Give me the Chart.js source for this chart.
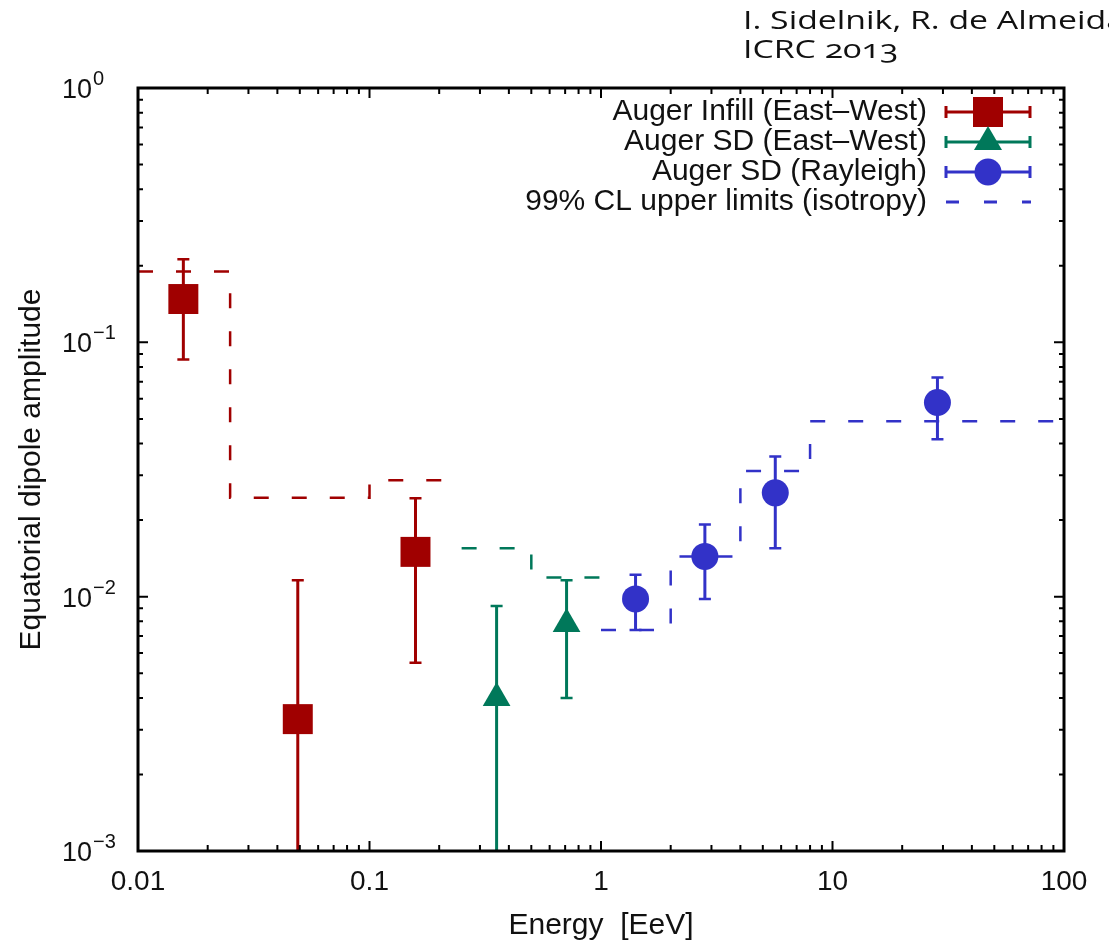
<!DOCTYPE html>
<html>
<head>
<meta charset="utf-8">
<title>Equatorial dipole amplitude vs energy</title>
<script src="https://cdn.jsdelivr.net/npm/chart.js@4/dist/chart.umd.min.js"></script>
<style>
  html, body { margin: 0; padding: 0; background: #fff; overflow: hidden; }
  #wrap { position: relative; width: 1109px; height: 944px; overflow: hidden; }
  canvas { position: absolute; left: 0; top: 0; }
  .note {
    position: absolute; font-family: "Open Sans", Lato, sans-serif; font-size: 26px; line-height: 26px;
    color: #111; white-space: nowrap; transform: scaleX(1.3); transform-origin: 0 0;
  }
</style>
</head>
<body>
<div id="wrap">
  <canvas id="chart" width="1109" height="944"></canvas>
  <div class="note" style="left:743px; top:6px;">I. Sidelnik, R. de Almeida</div>
  <div class="note" style="left:743px; top:35px; font-variant-numeric: oldstyle-nums;">ICRC 2013</div>
</div>
<script>
// Auger Infill, east-west method
const energyInfill = [0.0157, 0.049, 0.158];
const ampInfill = [0.148, 0.0033, 0.015];
const lowInfill = [0.0857, 0.0005, 0.0055];
const highInfill = [0.212, 0.0116, 0.0244];

// Auger SD, east-west method
const energySdEW = [0.354, 0.71];
const ampSdEW = [0.004, 0.0078];
const lowSdEW = [0.0005, 0.004];
const highSdEW = [0.0092, 0.0116];

// Auger SD, Rayleigh analysis
const energyRay = [1.41, 2.81, 5.66, 28.4];
const ampRay = [0.0098, 0.0144, 0.0256, 0.058];
const lowRay = [0.0074, 0.0098, 0.0155, 0.0416];
const highRay = [0.0122, 0.0192, 0.0356, 0.0728];

// 99% CL upper limits: bin edges and limit per bin
const edgesInfill = [0.01, 0.025, 0.1, 0.25];
const ulInfill = [0.19, 0.0245, 0.0287];
const edgesSdEW = [0.25, 0.5, 1];
const ulSdEW = [0.0155, 0.0119];
const edgesRay = [1, 2, 4, 8, 100];
const ulRay = [0.0074, 0.0144, 0.0312, 0.049];

const xTickLabels = ['0.01', '0.1', '1', '10', '100'];
const yTickExponents = ['0', '\u22121', '\u22122', '\u22123'];

const RED = '#a00000';
const GREEN = '#00785a';
const BLUE = '#3232c8';
const FONT = '"Liberation Sans", Arial, sans-serif';

const pts = (xs, ys) => xs.map((x, i) => ({ x, y: ys[i] }));
const steps = (edges, vals) => {
  const out = vals.map((v, i) => ({ x: edges[i], y: v }));
  out.push({ x: edges[edges.length - 1], y: vals[vals.length - 1] });
  return out;
};

const legendRows = [
  { label: 'Auger Infill (East\u2013West)', color: RED, marker: 'rect' },
  { label: 'Auger SD (East\u2013West)', color: GREEN, marker: 'triangle' },
  { label: 'Auger SD (Rayleigh)', color: BLUE, marker: 'circle' },
  { label: '99% CL upper limits (isotropy)', color: BLUE, marker: 'dash' }
];

function drawMarker(ctx, kind, x, y, color) {
  ctx.fillStyle = color;
  ctx.beginPath();
  if (kind === 'rect') {
    ctx.rect(x - 15, y - 15, 30, 30);
  } else if (kind === 'triangle') {
    ctx.moveTo(x, y - 16);
    ctx.lineTo(x + 14, y + 8);
    ctx.lineTo(x - 14, y + 8);
    ctx.closePath();
  } else {
    ctx.arc(x, y, 13.5, 0, Math.PI * 2);
  }
  ctx.fill();
}

// vertical error bars with caps, clipped to the frame
const errorBars = {
  id: 'errorBars',
  beforeDatasetsDraw(chart) {
    const { ctx, chartArea: a, scales: { x, y } } = chart;
    ctx.save();
    ctx.beginPath();
    ctx.rect(a.left, a.top, a.right - a.left, a.bottom - a.top);
    ctx.clip();
    chart.data.datasets.forEach(ds => {
      if (!ds.errLow) return;
      ctx.strokeStyle = ds.backgroundColor;
      ds.data.forEach((p, i) => {
        const px = x.getPixelForValue(p.x);
        const y0 = y.getPixelForValue(ds.errLow[i]);
        const y1 = y.getPixelForValue(ds.errHigh[i]);
        ctx.lineWidth = 3;
        ctx.beginPath();
        ctx.moveTo(px, y0);
        ctx.lineTo(px, y1);
        ctx.stroke();
        ctx.lineWidth = 2.5;
        ctx.beginPath();
        ctx.moveTo(px - 6, y0); ctx.lineTo(px + 6, y0);
        ctx.moveTo(px - 6, y1); ctx.lineTo(px + 6, y1);
        ctx.stroke();
      });
    });
    ctx.restore();
  }
};

// frame, inward ticks on all four sides, y labels and the key
const frame = {
  id: 'frame',
  afterDraw(chart) {
    const { ctx, chartArea: a, scales: { x, y } } = chart;
    ctx.save();
    ctx.strokeStyle = '#000';
    ctx.lineWidth = 2;
    ctx.beginPath();
    for (let e = -2; e < 2; e++) {
      for (let m = 1; m <= 9; m++) {
        const px = x.getPixelForValue(m * Math.pow(10, e));
        const len = m === 1 ? 10 : 6;
        ctx.moveTo(px, a.bottom); ctx.lineTo(px, a.bottom - len);
        ctx.moveTo(px, a.top); ctx.lineTo(px, a.top + len);
      }
    }
    for (let e = -3; e < 0; e++) {
      for (let m = 1; m <= 9; m++) {
        const py = y.getPixelForValue(m * Math.pow(10, e));
        const len = m === 1 ? 10 : 5;
        ctx.moveTo(a.left, py); ctx.lineTo(a.left + len, py);
        ctx.moveTo(a.right, py); ctx.lineTo(a.right - len, py);
      }
    }
    ctx.stroke();
    ctx.lineWidth = 3;
    ctx.strokeRect(a.left, a.top, a.right - a.left, a.bottom - a.top);

    // y tick labels as 10 with a raised exponent
    ctx.fillStyle = '#111';
    ctx.textBaseline = 'alphabetic';
    yTickExponents.forEach((ex, i) => {
      const py = y.getPixelForValue(Math.pow(10, -i));
      ctx.font = '27px ' + FONT;
      ctx.textAlign = 'right';
      ctx.fillText('10', 92, py + 10);
      ctx.font = '20px ' + FONT;
      ctx.textAlign = 'left';
      ctx.fillText(ex, 93, py - 3);
    });

    // key
    legendRows.forEach((row, i) => {
      const ly = 112 + i * 30;
      ctx.font = '30px ' + FONT;
      ctx.textAlign = 'right';
      ctx.textBaseline = 'middle';
      ctx.fillStyle = '#111';
      ctx.fillText(row.label, 927, ly);
      ctx.strokeStyle = row.color;
      if (row.marker === 'dash') {
        ctx.lineWidth = 3;
        ctx.setLineDash([13, 25]);
        ctx.beginPath();
        ctx.moveTo(946, ly); ctx.lineTo(1031, ly);
        ctx.stroke();
        ctx.setLineDash([]);
      } else {
        ctx.lineWidth = 3;
        ctx.beginPath();
        ctx.moveTo(946, ly); ctx.lineTo(1030, ly);
        ctx.moveTo(946, ly - 6); ctx.lineTo(946, ly + 6);
        ctx.moveTo(1030, ly - 6); ctx.lineTo(1030, ly + 6);
        ctx.stroke();
        drawMarker(ctx, row.marker, 988, ly, row.color);
      }
    });
    ctx.restore();
  }
};

const markerDs = (data, color, style, radius, lo, hi) => ({
  type: 'scatter',
  data,
  backgroundColor: color,
  borderColor: color,
  borderWidth: 0,
  pointStyle: style,
  pointRadius: radius,
  pointHoverRadius: radius,
  errLow: lo,
  errHigh: hi
});

const limitDs = (data, color) => ({
  type: 'line',
  data,
  stepped: true,
  borderColor: color,
  borderWidth: 2.5,
  borderDash: [15, 23],
  pointRadius: 0,
  fill: false
});

new Chart(document.getElementById('chart'), {
  type: 'scatter',
  data: {
    datasets: [
      markerDs(pts(energyInfill, ampInfill), RED, 'rect', 21.2, lowInfill, highInfill),
      markerDs(pts(energySdEW, ampSdEW), GREEN, 'triangle', 16, lowSdEW, highSdEW),
      markerDs(pts(energyRay, ampRay), BLUE, 'circle', 13.5, lowRay, highRay),
      limitDs(steps(edgesInfill, ulInfill), RED),
      limitDs(steps(edgesSdEW, ulSdEW), GREEN),
      limitDs(steps(edgesRay, ulRay), BLUE)
    ]
  },
  options: {
    responsive: false,
    animation: false,
    events: [],
    layout: { padding: { top: 88, right: 45, left: 0, bottom: 0 } },
    plugins: { legend: { display: false }, tooltip: { enabled: false } },
    scales: {
      x: {
        type: 'logarithmic',
        min: 0.01,
        max: 100,
        grid: { display: false },
        border: { display: false },
        afterFit: s => { s.height = 93; },
        ticks: {
          autoSkip: false,
          maxRotation: 0,
          padding: 6,
          color: '#111',
          font: { family: FONT, size: 28 },
          callback: v => {
            const i = xTickLabels.indexOf(String(+v));
            return i >= 0 ? xTickLabels[i] : '';
          }
        },
        title: {
          display: true,
          text: 'Energy  [EeV]',
          color: '#111',
          font: { family: FONT, size: 30 },
          padding: { top: 0, bottom: 0 }
        }
      },
      y: {
        type: 'logarithmic',
        min: 0.001,
        max: 1,
        grid: { display: false },
        border: { display: false },
        afterFit: s => { s.width = 138; },
        ticks: { display: false },
        title: {
          display: true,
          text: 'Equatorial dipole amplitude',
          color: '#111',
          font: { family: FONT, size: 30 },
          padding: { top: 14, bottom: 0 }
        }
      }
    }
  },
  plugins: [errorBars, frame]
});
</script>
</body>
</html>
